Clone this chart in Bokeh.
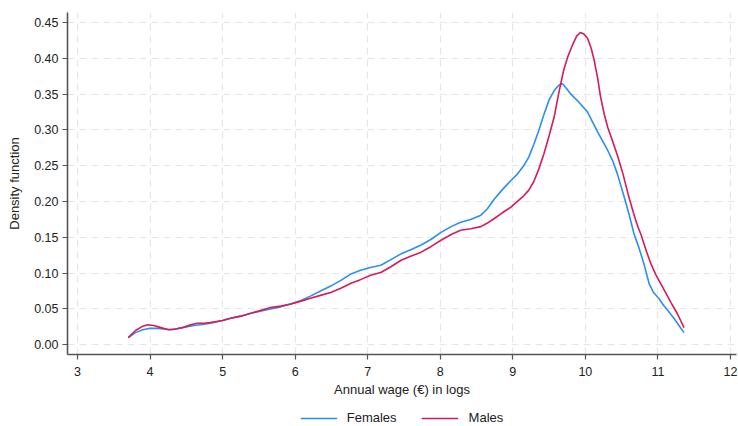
from bokeh.plotting import figure
from bokeh.layouts import column
from bokeh.models import Range1d, Legend, LegendItem, FixedTicker
from bokeh.embed import file_html
from bokeh.resources import INLINE

# Females density
fem_x = [3.70, 3.80, 3.90, 4.00, 4.10, 4.20, 4.30, 4.40, 4.50, 4.60, 4.70, 4.83, 5.00, 5.11,
         5.25, 5.39, 5.52, 5.66, 5.80, 5.94, 6.08, 6.21, 6.35, 6.49, 6.63, 6.77, 6.90, 7.04,
         7.18, 7.32, 7.46, 7.60, 7.73, 7.87, 8.01, 8.15, 8.28, 8.42, 8.56, 8.65, 8.74, 8.85,
         8.97, 9.06, 9.15, 9.22, 9.29, 9.36, 9.43, 9.50, 9.57, 9.63, 9.68, 9.74, 9.80, 9.89,
         9.96, 10.03, 10.10, 10.17, 10.24, 10.31, 10.38, 10.44, 10.53, 10.60, 10.67, 10.74,
         10.81, 10.88, 10.94, 11.01, 11.08, 11.15, 11.22, 11.29, 11.36]
fem_y = [0.010, 0.017, 0.021, 0.023, 0.023, 0.022, 0.021, 0.023, 0.025, 0.027, 0.028, 0.030,
         0.034, 0.037, 0.040, 0.044, 0.047, 0.050, 0.053, 0.057, 0.062, 0.068, 0.075, 0.082,
         0.090, 0.099, 0.104, 0.108, 0.111, 0.119, 0.127, 0.133, 0.139, 0.147, 0.157, 0.165,
         0.171, 0.175, 0.181, 0.190, 0.203, 0.216, 0.229, 0.238, 0.250, 0.262, 0.280, 0.300,
         0.322, 0.342, 0.355, 0.362, 0.365, 0.358, 0.350, 0.341, 0.333, 0.325, 0.311, 0.297,
         0.284, 0.271, 0.256, 0.239, 0.208, 0.183, 0.155, 0.135, 0.112, 0.085, 0.073, 0.065,
         0.055, 0.046, 0.037, 0.027, 0.017]

# Males density
mal_x = [3.70, 3.80, 3.90, 3.97, 4.05, 4.15, 4.25, 4.35, 4.45, 4.56, 4.65, 4.75, 4.83, 5.00,
         5.11, 5.25, 5.39, 5.52, 5.66, 5.80, 5.94, 6.08, 6.21, 6.35, 6.49, 6.63, 6.77, 6.90,
         7.04, 7.18, 7.32, 7.46, 7.60, 7.73, 7.87, 8.01, 8.15, 8.28, 8.42, 8.56, 8.65, 8.74,
         8.85, 8.97, 9.06, 9.15, 9.22, 9.29, 9.36, 9.43, 9.50, 9.57, 9.63, 9.70, 9.76, 9.82,
         9.88, 9.93, 9.98, 10.03, 10.08, 10.12, 10.17, 10.21, 10.26, 10.31, 10.38, 10.45,
         10.52, 10.59, 10.66, 10.72, 10.77, 10.84, 10.90, 10.97, 11.04, 11.11, 11.18, 11.27,
         11.36]
mal_y = [0.010, 0.020, 0.026, 0.028, 0.027, 0.024, 0.021, 0.022, 0.024, 0.028, 0.030, 0.030,
         0.031, 0.034, 0.037, 0.040, 0.044, 0.048, 0.052, 0.054, 0.057, 0.061, 0.065, 0.069,
         0.073, 0.079, 0.086, 0.091, 0.097, 0.101, 0.109, 0.118, 0.124, 0.129, 0.137, 0.146,
         0.154, 0.160, 0.162, 0.165, 0.170, 0.176, 0.184, 0.192, 0.200, 0.208, 0.216, 0.228,
         0.246, 0.267, 0.292, 0.318, 0.350, 0.383, 0.403, 0.418, 0.431, 0.436, 0.434, 0.428,
         0.414, 0.398, 0.372, 0.346, 0.322, 0.303, 0.283, 0.262, 0.238, 0.210, 0.185, 0.166,
         0.153, 0.131, 0.114, 0.098, 0.085, 0.072, 0.059, 0.043, 0.024]

x_ticks = [3, 4, 5, 6, 7, 8, 9, 10, 11, 12]
y_ticks = [0.00, 0.05, 0.10, 0.15, 0.20, 0.25, 0.30, 0.35, 0.40, 0.45]
y_tick_labels = {v: f"{v:.2f}" for v in y_ticks}
series_names = ["Females", "Males"]

FONT = "Liberation Sans"
BLUE = "#2B8EF2"
RED = "#DA1A55"

p = figure(width=738, height=406, output_backend="svg", toolbar_location=None,
           x_range=Range1d(2.8622, 12.083), y_range=Range1d(-0.01354, 0.464),
           min_border_left=67, min_border_right=2, min_border_top=12, min_border_bottom=52)
p.outline_line_color = None
p.background_fill_color = "white"
p.border_fill_color = "white"

p.line(fem_x, fem_y, line_color=BLUE, line_width=1.6)
p.line(mal_x, mal_y, line_color=RED, line_width=1.6)

for ax in (p.xaxis[0], p.yaxis[0]):
    ax.axis_line_color = "#555555"
    ax.axis_line_width = 1.6
    ax.major_tick_line_color = "#555555"
    ax.major_tick_line_width = 1.2
    ax.major_tick_out = 5
    ax.major_tick_in = 0
    ax.minor_tick_line_color = None
    ax.major_label_text_font = FONT
    ax.major_label_text_font_size = "12.5px"
    ax.major_label_text_color = "#222222"
    ax.axis_label_text_font = FONT
    ax.axis_label_text_font_size = "13px"
    ax.axis_label_text_font_style = "normal"
    ax.axis_label_text_color = "#222222"

p.xaxis.ticker = FixedTicker(ticks=x_ticks)
p.yaxis.ticker = FixedTicker(ticks=y_ticks)
p.yaxis.major_label_overrides = y_tick_labels
p.xaxis.axis_label = "Annual wage (€) in logs"
p.yaxis.axis_label = "Density function"
p.xaxis.major_label_standoff = 7
p.xaxis.axis_label_standoff = 3
p.yaxis.major_label_standoff = 4
p.yaxis.axis_label_standoff = 9

for g in (p.xgrid[0], p.ygrid[0]):
    g.grid_line_color = "#E6E6E6"
    g.grid_line_dash = "7 5"
    g.grid_line_width = 1.2
p.xgrid.ticker = FixedTicker(ticks=x_ticks)
p.ygrid.ticker = FixedTicker(ticks=y_ticks)

# legend strip below the chart
lf = figure(width=738, height=20, output_backend="svg", toolbar_location=None,
            x_axis_type=None, y_axis_type=None,
            x_range=Range1d(10, 11), y_range=Range1d(10, 11),
            min_border_left=67, min_border_right=2, min_border_top=0, min_border_bottom=0)
lf.outline_line_color = None
lf.xgrid.visible = False
lf.ygrid.visible = False
lr_f = lf.line([0, 1], [0, 0], line_color=BLUE, line_width=1.6)
lr_m = lf.line([0, 1], [0, 0], line_color=RED, line_width=1.6)

legend = Legend(items=[LegendItem(label=series_names[0], renderers=[lr_f]),
                       LegendItem(label=series_names[1], renderers=[lr_m])],
                orientation="horizontal", location="bottom_center")
legend.label_text_font = FONT
legend.label_text_font_size = "13px"
legend.label_text_color = "#222222"
legend.glyph_width = 37
legend.glyph_height = 14
legend.label_standoff = 10
legend.spacing = 25
legend.border_line_alpha = 0
legend.background_fill_alpha = 0
legend.margin = 0
legend.padding = 1
lf.add_layout(legend, "center")

open("out.html", "w").write(file_html(column(p, lf, spacing=0), INLINE))
